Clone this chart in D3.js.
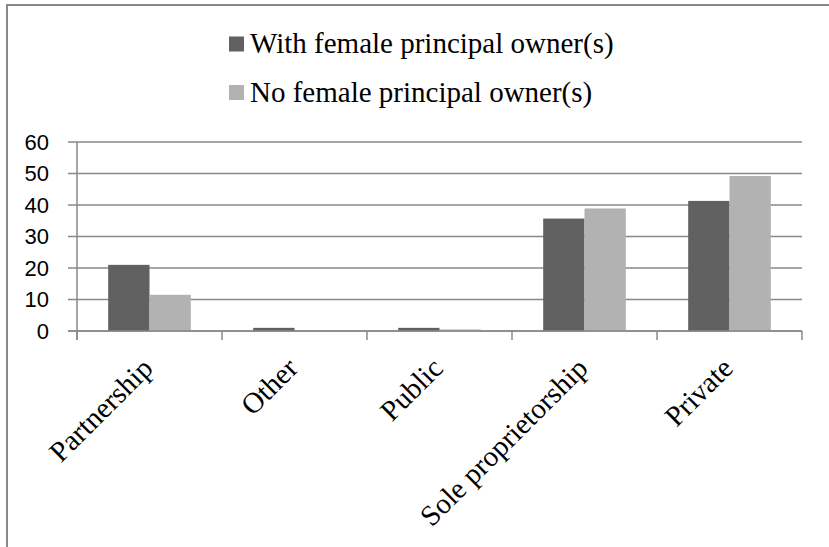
<!DOCTYPE html>
<html><head><meta charset="utf-8">
<script src="https://cdn.jsdelivr.net/npm/d3@7"></script>
<style>body{margin:0;background:#fff;}svg{display:block;}</style>
</head><body>
<script>
const categories = ["Partnership", "Other", "Public", "Sole proprietorship", "Private"];
const seriesNames = ["With female principal owner(s)", "No female principal owner(s)"];
const withFemale = [21, 1, 1, 35.7, 41.3];
const noFemale = [11.5, 0, 0.5, 38.9, 49.2];
const yTicks = [0, 10, 20, 30, 40, 50, 60];
const colors = ["#616161", "#b2b2b2"];

const W = 829, H = 547;
const svg = d3.select("body").append("svg").attr("width", W).attr("height", H);

// outer frame
svg.append("rect").attr("x", 7).attr("y", 5).attr("width", 1000).attr("height", 1000)
  .attr("fill", "none").attr("stroke", "#898989").attr("stroke-width", 2);

const x0 = d3.scaleBand().domain(categories).range([77, 802]).padding(0);
const x1 = d3.scaleBand().domain(seriesNames).range([0, x0.bandwidth()]).paddingInner(0).paddingOuter(0.755);
const y = d3.scaleLinear().domain([0, 60]).range([331, 142]);

// gridlines
svg.append("g").selectAll("line").data(yTicks).join("line")
  .attr("x1", 68).attr("x2", 802)
  .attr("y1", d => y(d)).attr("y2", d => y(d))
  .attr("stroke", "#888").attr("stroke-width", 1.5);

// y axis line
svg.append("line").attr("x1", 77).attr("x2", 77).attr("y1", y(60)).attr("y2", 340)
  .attr("stroke", "#888").attr("stroke-width", 1.5);

// category ticks
const bounds = categories.map(c => x0(c)).concat([x0.range()[1]]);
svg.append("g").selectAll("line").data(bounds).join("line")
  .attr("x1", d => d).attr("x2", d => d).attr("y1", y(0)).attr("y2", 340)
  .attr("stroke", "#888").attr("stroke-width", 1.5);

// y labels
svg.append("g").selectAll("text").data(yTicks).join("text")
  .attr("x", 49).attr("y", d => y(d)).attr("dy", "0.36em")
  .attr("text-anchor", "end")
  .attr("font-family", "Liberation Sans, Arial, sans-serif").attr("font-size", 22)
  .attr("fill", "#000").text(d => d);

// bars
const seriesData = [withFemale, noFemale];
seriesData.forEach((vals, si) => {
  svg.append("g").selectAll("rect").data(categories).join("rect")
    .attr("x", (c) => x0(c) + x1(seriesNames[si]))
    .attr("width", x1.bandwidth())
    .attr("y", (c, i) => y(vals[i]))
    .attr("height", (c, i) => y(0) - y(vals[i]))
    .attr("fill", colors[si]);
});

// redraw baseline on top
svg.append("line").attr("x1", 68).attr("x2", 802).attr("y1", y(0)).attr("y2", y(0))
  .attr("stroke", "#888").attr("stroke-width", 1.5);

// x labels
svg.append("g").selectAll("text").data(categories).join("text")
  .attr("transform", c => `translate(${x0(c) + x0.bandwidth() / 2 + 5},${370}) rotate(-45)`)
  .attr("text-anchor", "end")
  .attr("font-family", "Liberation Serif, Times New Roman, serif").attr("font-size", 29)
  .attr("fill", "#000").text(c => c);

// legend
const leg = svg.append("g");
seriesNames.forEach((s, i) => {
  const yy = 53 + i * 48.5;
  leg.append("rect").attr("x", 229).attr("y", yy - 16.5).attr("width", 15).attr("height", 15).attr("fill", colors[i]);
  leg.append("text").attr("x", 250).attr("y", yy)
    .attr("font-family", "Liberation Serif, Times New Roman, serif").attr("font-size", 29)
    .attr("fill", "#000").text(s);
});
</script>
</body></html>
